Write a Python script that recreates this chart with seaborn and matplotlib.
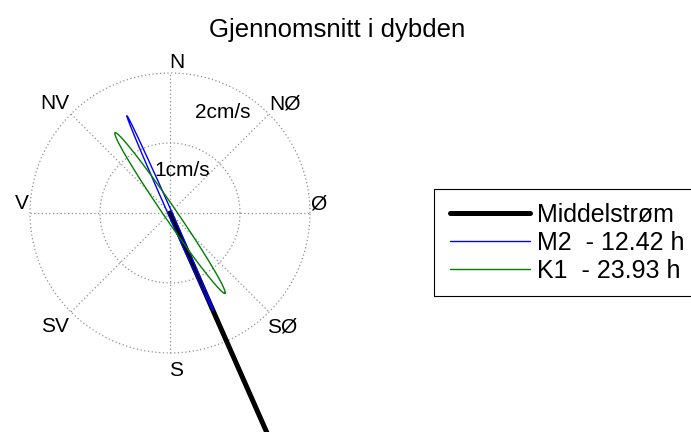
import numpy as np
import pandas as pd
import matplotlib
matplotlib.use("Agg")
import matplotlib.pyplot as plt
import seaborn as sns

# ---------------- data ----------------
title = "Gjennomsnitt i dybden"
compass_labels = ["N", "NØ", "Ø", "SØ", "S", "SV", "V", "NV"]
ring_speeds = [1, 2]                     # cm/s
ring_labels = ["1cm/s", "2cm/s"]

# mean current (speed cm/s, direction towards, compass degrees)
mean_speed = 3.5
mean_dir = 156.2

# tidal ellipses: semi-major, semi-minor (cm/s), major-axis bearing (deg)
constituents = ["M2", "K1"]
periods = [12.42, 23.93]
semi_major = [1.52, 1.39]
semi_minor = [0.03, 0.09]
major_bearing = [156.1, 145.6]
legend_labels = ["Middelstrøm", "M2  - 12.42 h", "K1  - 23.93 h"]
colors = ["#0000ff", "#008000"]

# ---------------- figure ----------------
sns.set_style("white")
plt.rcParams["font.family"] = ["Liberation Sans", "DejaVu Sans"]
plt.rcParams["text.color"] = "black"

W, H = 691, 432
fig = plt.figure(figsize=(W / 100, H / 100), dpi=100)
px = 70.0           # pixels per cm/s
cx, cy = 170.0, 213.0
ax = fig.add_axes([0, 0, 340 / W, 1])
ax.set_xlim(-cx / px, (340 - cx) / px)
ax.set_ylim(-(H - cy) / px, cy / px)
ax.set_axis_off()

# grid: circles + spokes
grid_kw = dict(color="#909090", lw=0.9, ls=(0, (1, 2)), zorder=1)
t = np.linspace(0, 2 * np.pi, 400)
for r in ring_speeds:
    ax.plot(r * np.cos(t), r * np.sin(t), **grid_kw)
rmax = max(ring_speeds)
for a in np.deg2rad([0, 45, 90, 135]):
    ax.plot([-rmax * np.sin(a), rmax * np.sin(a)],
            [-rmax * np.cos(a), rmax * np.cos(a)], **grid_kw)

# compass labels (text centres, data units)
label_pos = {"N": (0.095, 2.18), "NØ": (1.64, 1.59), "Ø": (2.12, 0.16),
             "SØ": (1.60, -1.60), "S": (0.081, -2.22), "SV": (-1.64, -1.60),
             "V": (-2.12, 0.16), "NV": (-1.64, 1.59)}
fs_lab = 15
cap = fs_lab * 1.389 * 0.716 / 2 / px
for lab in compass_labels:
    x, y = label_pos[lab]
    ax.text(x, y - cap, lab, ha="center", va="baseline", fontsize=fs_lab,
            color="black")
ring_pos = {"1cm/s": (0.167, 0.64), "2cm/s": (0.75, 1.46)}
for lab in ring_labels:
    x, y = ring_pos[lab]
    ax.text(x, y - cap, lab, ha="center", va="baseline", fontsize=fs_lab,
            color="black")

# mean current line
b = np.deg2rad(mean_dir)
mean_df = pd.DataFrame({"x": [0, mean_speed * np.sin(b)],
                        "y": [0, mean_speed * np.cos(b)]})
sns.lineplot(data=mean_df, x="x", y="y", sort=False, estimator=None,
             color="black", lw=3.6, ax=ax, label=legend_labels[0], zorder=3)

# tidal ellipses
tt = np.linspace(0, 2 * np.pi, 361)
for i, name in enumerate(constituents):
    th = np.deg2rad(major_bearing[i])
    ux, uy = np.sin(th), np.cos(th)      # major axis unit vector
    vx, vy = -uy, ux                     # minor axis unit vector
    ex = semi_major[i] * np.cos(tt) * ux + semi_minor[i] * np.sin(tt) * vx
    ey = semi_major[i] * np.cos(tt) * uy + semi_minor[i] * np.sin(tt) * vy
    df = pd.DataFrame({"x": ex, "y": ey})
    sns.lineplot(data=df, x="x", y="y", sort=False, estimator=None,
                 color=colors[i], lw=1.0, ax=ax, label=legend_labels[i + 1],
                 zorder=4)

handles, labels = ax.get_legend_handles_labels()
ax.get_legend().remove()
leg = fig.legend(handles, labels, loc="upper left",
                 bbox_to_anchor=(450 / W, 1 - 203 / H),
                 fontsize=18, frameon=False,
                 handlelength=80 / 25, handletextpad=0.27,
                 borderpad=0.0, labelspacing=0.16, borderaxespad=0)
for txt in leg.get_texts():
    txt.set_color("black")
# legend frame (extends past the right edge of the figure, as in the original)
fig.add_artist(plt.Rectangle((434 / W, 1 - 296 / H), 270 / W, 107 / H,
                             transform=fig.transFigure, fill=False,
                             ec="black", lw=0.8))

fig.text(337 / W, 1 - 36.7 / H, title, ha="center", va="baseline",
         fontsize=18.5, color="black")

fig.savefig("out.png", dpi=100)
